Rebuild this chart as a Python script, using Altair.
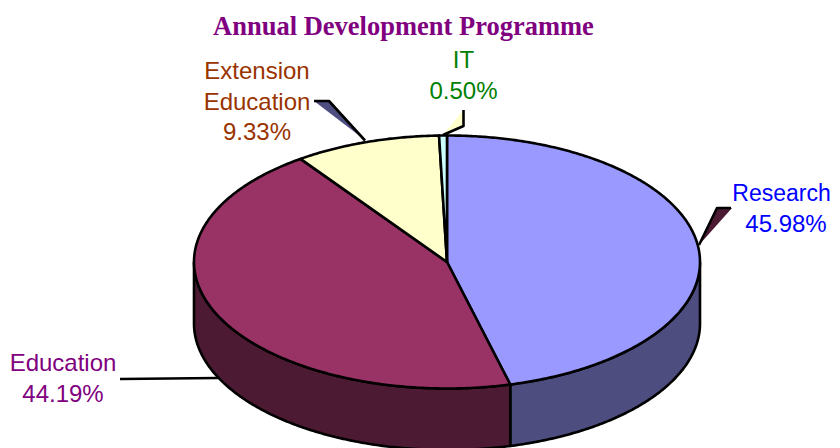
import numpy as np
import pandas as pd
import altair as alt

# --- values ---
categories = ["Research", "Education", "Extension\nEducation", "IT"]
shares = [45.98, 44.19, 9.33, 0.50]
title_text = "Annual Development Programme"

# --- styles ---
top_colors = ["#9999FF", "#993366", "#FFFFCC", "#CCFFFF"]
side_colors = ["#4D4D80", "#4D1A33", "#80804D", "#4D8080"]
label_colors = ["#0000FF", "#800080", "#993300", "#008000"]

# --- layout (image pixels) ---
CX, CY, RX, RY, DEPTH = 447.0, 262.0, 253.0, 126.5, 61.5
EDGE = 2.6
FONT = "Liberation Sans"
BOTTOM = 448

x_scale = alt.Scale(domain=[8, 832], range=[0, 824], nice=False, zero=False)
y_scale = alt.Scale(domain=[8, BOTTOM], range=[0, BOTTOM - 8], nice=False, zero=False)


def poly_layer(points, fill=None, stroke="black", width=EDGE):
    df = pd.DataFrame(points, columns=["px", "py"])
    df["k"] = range(len(df))
    kw = dict(strokeWidth=width, strokeJoin="round", strokeCap="butt", clip=False)
    if fill is not None:
        kw["fill"] = fill
    if stroke is not None:
        kw["stroke"] = stroke
    else:
        kw["strokeOpacity"] = 0
    return alt.Chart(df).mark_line(**kw).encode(
        x=alt.X("px:Q", scale=x_scale, axis=None),
        y=alt.Y("py:Q", scale=y_scale, axis=None),
        order="k:Q",
    )


def rim(a0, a1, dy=0.0):
    ang = np.radians(np.linspace(a0, a1, max(int(abs(a1 - a0) * 2), 2) + 1))
    return [(CX + RX * np.sin(t), CY - RY * np.cos(t) + dy) for t in ang]


edges = np.concatenate([[0.0], np.cumsum(shares)]) * 3.6
layers = []

# side walls: only the part of each slice on the front half of the rim
for i in range(len(shares)):
    lo, hi = max(edges[i], 90.0), min(edges[i + 1], 270.0)
    if hi > lo:
        arc = rim(lo, hi)
        wall = arc + rim(lo, hi, DEPTH)[::-1] + [arc[0]]
        layers.append(poly_layer(wall, fill=side_colors[i]))

# top faces
for i in range(len(shares)):
    arc = rim(edges[i], edges[i + 1])
    layers.append(poly_layer([(CX, CY)] + arc + [(CX, CY)], fill=top_colors[i]))

# leader lines: (fill polygon, black polyline)
leaders = [
    ([(717, 208), (732, 208), (699, 245)], [(699, 245), (717, 208), (731, 208)], "#4D1A33"),
    ([(314, 101), (329, 101), (365, 140)], [(365, 140.5), (329, 101), (314, 101)], "#4D4D80"),
    ([(463.5, 110), (463.5, 126), (443, 135)], [(463.5, 110), (463.5, 126), (443, 135)], "#FFFFCC"),
]
for tri, line, col in leaders:
    layers.append(poly_layer(tri + [tri[0]], fill=col, stroke=None))
    layers.append(poly_layer(line))
layers.append(poly_layer([(120, 379), (218, 378)]))

# labels: x of each line, first baseline, font size per line
label_x = [[781.5, 786], [63, 63], [257, 257, 257], [463.5, 463.5]]
label_y = [201, 371, 79, 68]
label_fs = [[23, 24], [24, 24], [24, 24, 24], [24, 24]]
rows = []
for i, (name, s) in enumerate(zip(categories, shares)):
    lines = name.split("\n") + [f"{s:.2f}%"]
    for j, t in enumerate(lines):
        rows.append({"px": label_x[i][j], "py": label_y[i] + j * 30.6, "t": t,
                     "c": label_colors[i], "fs": label_fs[i][j]})
labels = alt.Chart(pd.DataFrame(rows)).mark_text(
    font=FONT, align="center", baseline="alphabetic"
).encode(
    x=alt.X("px:Q", scale=x_scale, axis=None),
    y=alt.Y("py:Q", scale=y_scale, axis=None),
    text="t:N",
    color=alt.Color("c:N", scale=None, legend=None),
    size=alt.Size("fs:Q", scale=None, legend=None),
)
title = alt.Chart(pd.DataFrame([{"px": 403.5, "py": 35, "t": title_text}])).mark_text(
    font="Liberation Serif", fontSize=26.5, fontWeight="bold", color="#800080",
    align="center", baseline="alphabetic"
).encode(
    x=alt.X("px:Q", scale=x_scale, axis=None),
    y=alt.Y("py:Q", scale=y_scale, axis=None),
    text="t:N",
)

chart = alt.layer(*layers, labels, title).properties(
    width=824, height=BOTTOM - 8, padding=0, autosize=alt.AutoSizeParams(type="none"), background="white"
).configure_view(stroke=None)

chart.save("out.html", embed_options={"renderer": "svg", "actions": False})
